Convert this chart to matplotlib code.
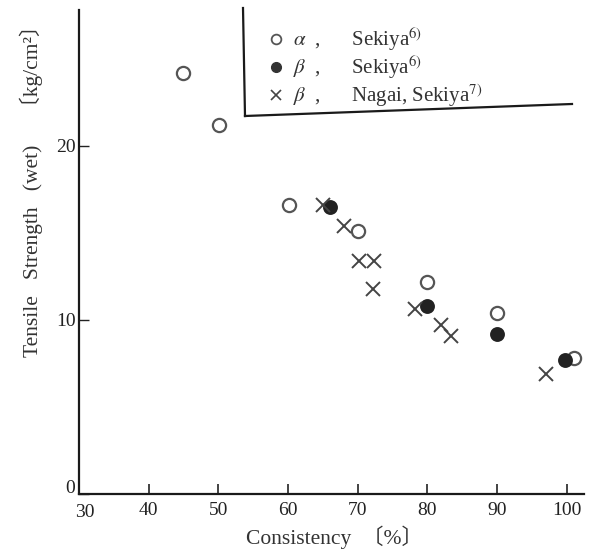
import matplotlib
matplotlib.use("Agg")
import matplotlib.pyplot as plt
from matplotlib.lines import Line2D

plt.rcParams['font.family'] = ['Liberation Serif', 'Noto Sans CJK JP', 'DejaVu Sans']
plt.rcParams['mathtext.fontset'] = 'stix'

# Data (Consistency %, Tensile strength kg/cm2)
alpha_sekiya_x = [45.0, 50.1, 60.2, 70.1, 79.9, 90.0, 101.0]
alpha_sekiya_y = [24.2, 21.2, 16.6, 15.1, 12.2, 10.4, 7.8]
beta_sekiya_x = [66.0, 80.0, 90.0, 99.8]
beta_sekiya_y = [16.5, 10.8, 9.2, 7.7]
beta_nagai_x = [65.0, 68.0, 70.2, 72.3, 72.2, 78.2, 82.0, 83.4, 97.0]
beta_nagai_y = [16.6, 15.4, 13.4, 13.4, 11.8, 10.6, 9.7, 9.1, 6.9]

xticks = [40, 50, 60, 70, 80, 90, 100]
yticks = [0, 10, 20]

W, H = 595, 551
fig = plt.figure(figsize=(W / 100, H / 100), dpi=100)
ax = fig.add_axes([79 / W, (H - 494) / H, 505 / W, 484 / H])
ax.set_xlim(30, 102.5)
ax.set_ylim(0, 27.8)

for s in ['top', 'right']:
    ax.spines[s].set_visible(False)
for s in ['left', 'bottom']:
    ax.spines[s].set_linewidth(1.6)
    ax.spines[s].set_color('#1a1a1a')

ax.set_xticks(xticks)
ax.set_yticks(yticks)
ax.set_yticklabels(['', '10', '20'])
ax.tick_params(axis='x', direction='in', length=7, width=1.2, pad=6, labelsize=14, colors='#222')
ax.tick_params(axis='y', direction='in', length=7, width=1.0, pad=2, labelsize=14, colors='#222')
# corner labels
ax.text(29.4, 0.3, '0', ha='right', va='center', fontsize=14, color='#222')
ax.text(30.8, -0.6, '30', ha='center', va='top', fontsize=14, color='#222')

ms = 9.5
ax.plot(alpha_sekiya_x, alpha_sekiya_y, 'o', ms=ms, mfc='white', mec='#555555', mew=1.6, ls='none')
ax.plot(beta_sekiya_x, beta_sekiya_y, 'o', ms=ms, mfc='#222222', mec='#222222', mew=1.2, ls='none')
ax.plot(beta_nagai_x, beta_nagai_y, 'x', ms=ms, mec='#444444', mew=1.4, ls='none')

labels = [r'$\alpha$  ,      Sekiya$^{6)}$',
          r'$\beta$  ,      Sekiya$^{6)}$',
          r'$\beta$  ,      Nagai, Sekiya$^{7)}$']
lh1 = Line2D([], [], marker='o', ms=7, mfc='white', mec='#555555', mew=1.3, ls='none')
lh2 = Line2D([], [], marker='o', ms=7, mfc='#333333', mec='#333333', ls='none')
lh3 = Line2D([], [], marker='x', ms=7, mec='#444444', mew=1.2, ls='none')
leg = fig.legend([lh1, lh2, lh3], labels, loc='upper left',
                 bbox_to_anchor=(259 / W, 1 - 15 / H), frameon=False,
                 fontsize=15, handlelength=0.6, handletextpad=0.55,
                 labelspacing=0.05, borderpad=0)
for t in leg.get_texts():
    t.set_color('#333333')

# partial legend frame
fig.add_artist(Line2D([243 / W, 245 / W], [1 - 8 / H, 1 - 116 / H], color='#1a1a1a', lw=1.6))
fig.add_artist(Line2D([245 / W, 572 / W], [1 - 116 / H, 1 - 104 / H], color='#1a1a1a', lw=1.6))

fig.text(31 / W, 1 - 186 / H, 'Tensile   Strength   (wet)     〔kg/cm²〕', rotation=90,
         ha='center', va='center', fontsize=15.5, color='#333333')
fig.text(334 / W, 1 - 537 / H, 'Consistency  〔%〕', ha='center', va='center',
         fontsize=15.5, color='#333333')

fig.savefig('out.png', dpi=100)
